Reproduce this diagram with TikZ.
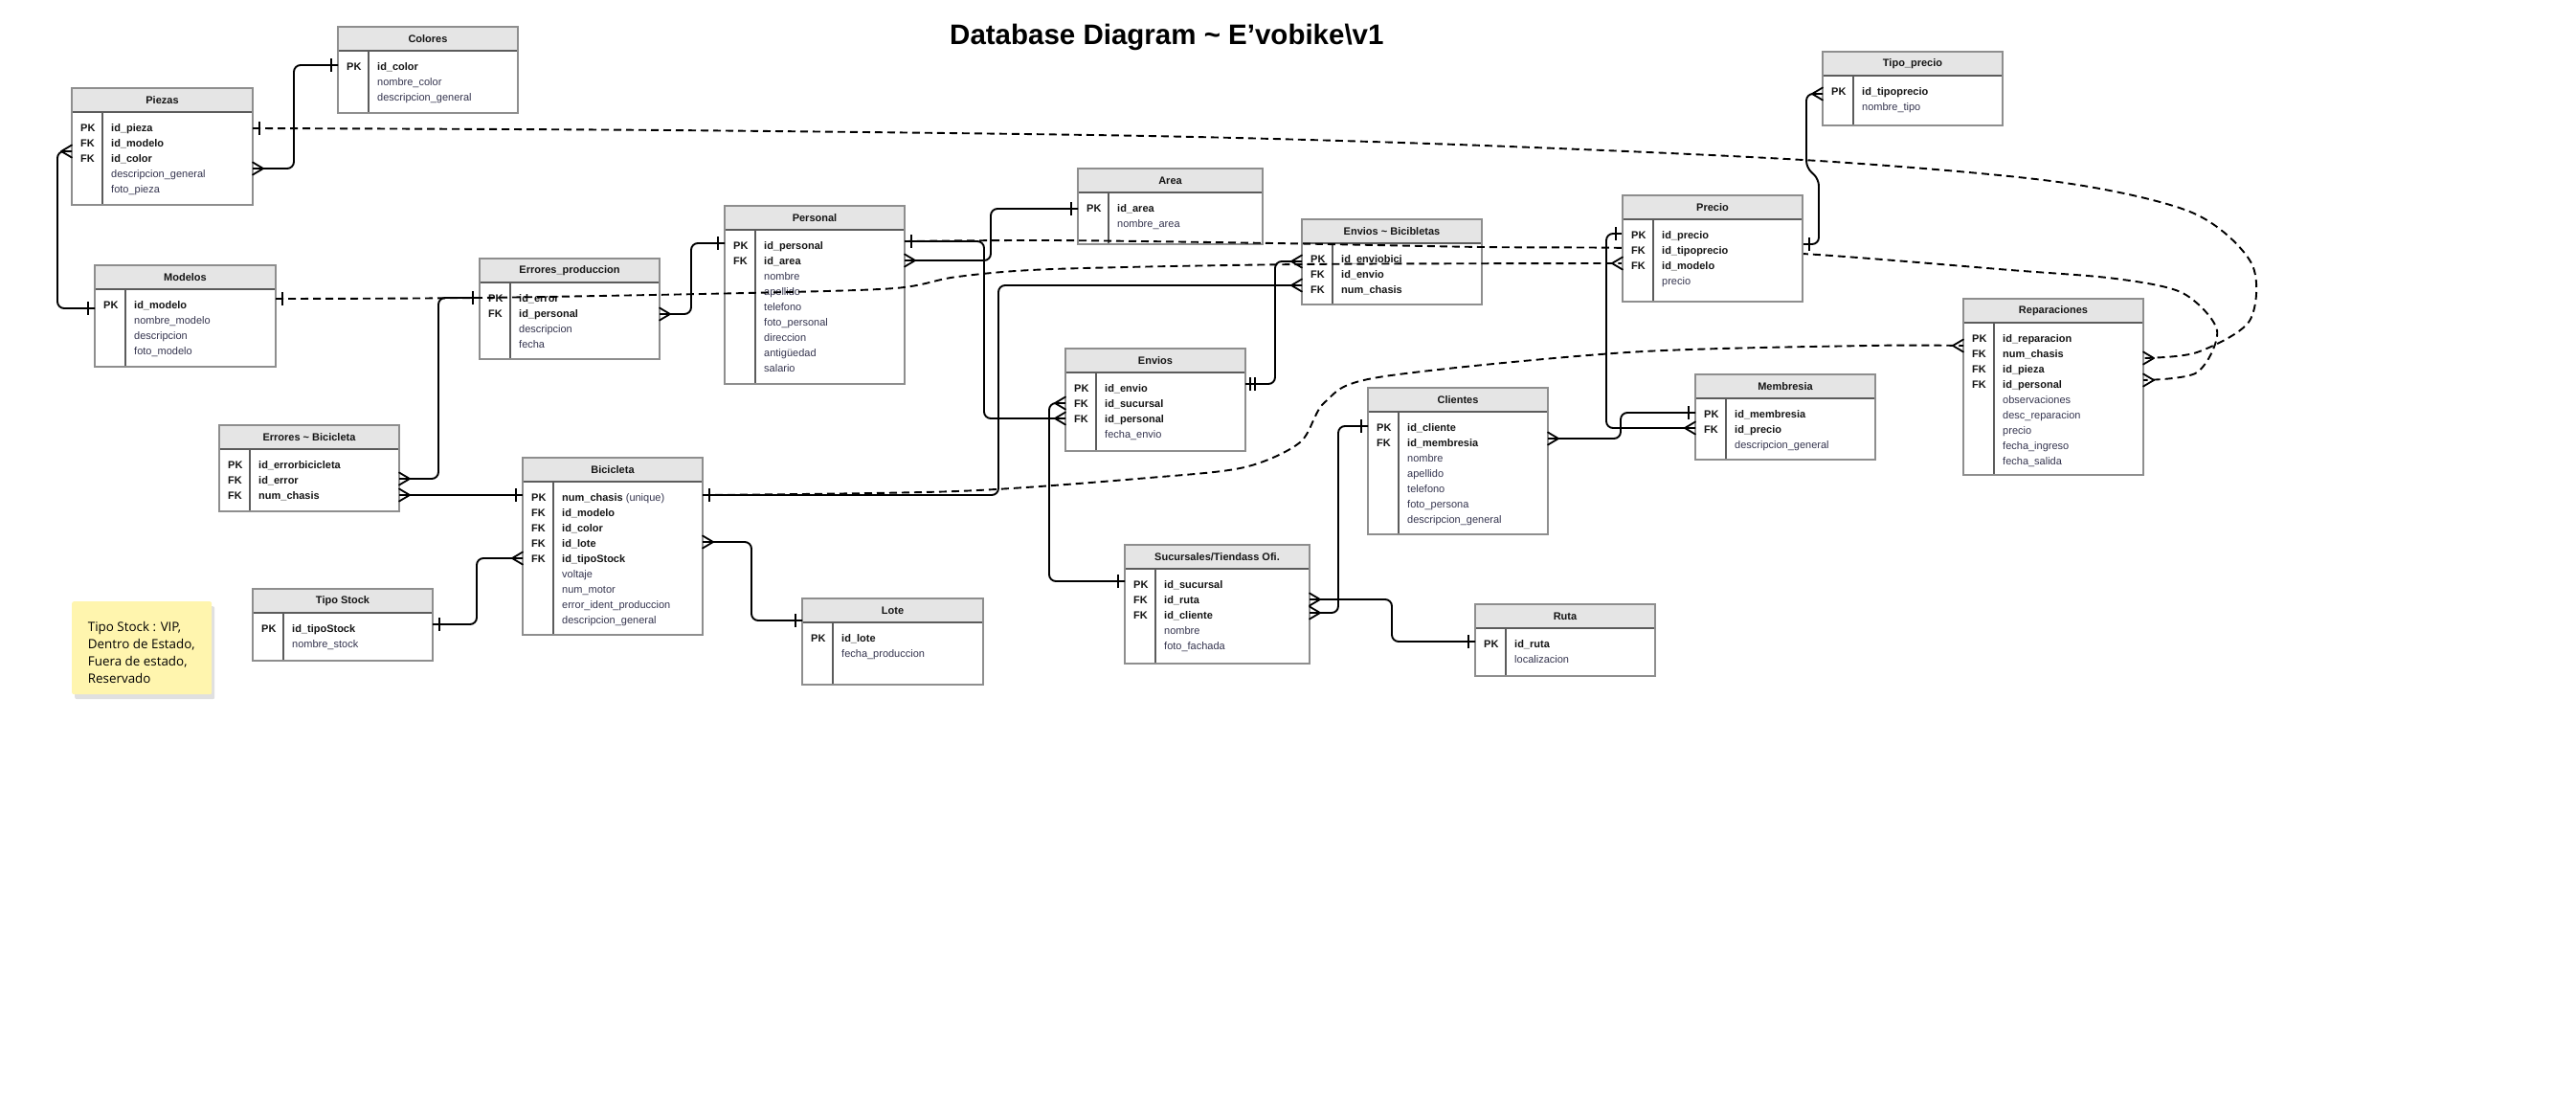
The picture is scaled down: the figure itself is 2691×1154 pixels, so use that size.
\documentclass[tikz,border=0pt]{standalone}
\usepackage{fontspec}
\setmainfont{Liberation Sans}
\newfontfamily\notefont{Open Sans}
\usetikzlibrary{calc,shadows}
\pgfdeclarelayer{frontt}
\pgfdeclarelayer{marks}
\pgfsetlayers{main,frontt,marks}
\definecolor{hdrgray}{HTML}{E5E5E5}
\definecolor{bordergray}{HTML}{8E8E8E}
\definecolor{hdrline}{HTML}{5C5C5C}
\definecolor{fieldcol}{HTML}{35354F}
\definecolor{keycol}{HTML}{151515}
\definecolor{notefill}{HTML}{FFF5AE}

\tikzset{
  tabbox/.style={fill=white, rectangle, inner sep=0pt, outer sep=0pt, anchor=north west},
  tabtitle/.style={font=\fontsize{11}{13}\selectfont\bfseries, text=keycol, inner sep=0pt},
  keylabel/.style={font=\fontsize{11}{13}\selectfont\bfseries, text=keycol, anchor=base west, inner sep=0pt},
  keyfield/.style={font=\fontsize{11}{13}\selectfont\bfseries, text=keycol, anchor=base west, inner sep=0pt},
  plainfield/.style={font=\fontsize{11}{13}\selectfont, text=fieldcol, anchor=base west, inner sep=0pt},
  conn/.style={draw=black, line width=1.9pt, rounded corners=7pt},
  dconn/.style={draw=black, line width=1.9pt, dash pattern=on 8pt off 5pt},
  notetxt/.style={font=\notefont\fontsize{13.4}{18}\selectfont, text=black, anchor=base west, inner sep=0pt},
  onemark/.pic={\draw[black, line width=1.9pt] (-7,-7) -- (-7,7);},
  twomark/.pic={\draw[black, line width=1.9pt] (-5,-7) -- (-5,7) (-10,-7) -- (-10,7);},
  manymark/.pic={\draw[black, line width=1.8pt, line join=round, line cap=round] (0,-6.5) -- (-11,0) -- (0,6.5);},
}

\newcommand{\dbtable}[6]{%
  \node[tabbox, minimum width=#4pt, minimum height=#5pt] (#1) at (#2,#3) {};
  \fill[hdrgray] (#1.north west) rectangle ($(#1.north east)+(0,25)$);
  \draw[hdrline, line width=1.2pt] ($(#1.north west)+(0,25)$) -- ($(#1.north east)+(0,25)$);
  \draw[hdrline, line width=1.1pt] ($(#1.north west)+(32,25)$) -- ($(#1.south west)+(32,0)$);
  \draw[bordergray, line width=1.3pt] (#1.north west) rectangle (#1.south east);
  \node[tabtitle] (#1-t) at ($(#1.north)+(0,12.5)$) {#6};
}
\newcommand{\krow}[4]{%
  \node[keylabel] (#1-k#2) at ($(#1.north west)+(9,29+16*#2)$) {#3};
  \node[keyfield] (#1-f#2) at ($(#1.north west)+(41,29+16*#2)$) {#4};
}
\newcommand{\prow}[3]{%
  \node[plainfield] (#1-f#2) at ($(#1.north west)+(41,29+16*#2)$) {#3};
}

\begin{document}
\begin{tikzpicture}[x=1pt,y=-1pt]
\useasboundingbox (0,0) rectangle (2691,1154);
\fill[white] (0,0) rectangle (2691,1154);

\node[anchor=base west, inner sep=0pt, font=\fontsize{29.5}{32}\selectfont\bfseries] (maintitle) at (992,46.5) {Database Diagram \textasciitilde{} E'vobike\textbackslash v1};

% ---------- tables ----------
\dbtable{colores}{353}{28}{188}{90}{Colores}
\krow{colores}{1}{PK}{id\_color}
\prow{colores}{2}{nombre\_color}
\prow{colores}{3}{descripcion\_general}

\dbtable{piezas}{75}{92}{189}{122}{Piezas}
\krow{piezas}{1}{PK}{id\_pieza}
\krow{piezas}{2}{FK}{id\_modelo}
\krow{piezas}{3}{FK}{id\_color}
\prow{piezas}{4}{descripcion\_general}
\prow{piezas}{5}{foto\_pieza}

\dbtable{modelos}{99}{277}{189}{106}{Modelos}
\krow{modelos}{1}{PK}{id\_modelo}
\prow{modelos}{2}{nombre\_modelo}
\prow{modelos}{3}{descripcion}
\prow{modelos}{4}{foto\_modelo}

\dbtable{errprod}{501}{270}{188}{105}{Errores\_produccion}
\krow{errprod}{1}{PK}{id\_error}
\krow{errprod}{2}{FK}{id\_personal}
\prow{errprod}{3}{descripcion}
\prow{errprod}{4}{fecha}

\dbtable{personal}{757}{215}{188}{186}{Personal}
\krow{personal}{1}{PK}{id\_personal}
\krow{personal}{2}{FK}{id\_area}
\prow{personal}{3}{nombre}
\prow{personal}{4}{apellido}
\prow{personal}{5}{telefono}
\prow{personal}{6}{foto\_personal}
\prow{personal}{7}{direccion}
\prow{personal}{8}{antigüedad}
\prow{personal}{9}{salario}

\dbtable{area}{1126}{176}{193}{79}{Area}
\krow{area}{1}{PK}{id\_area}
\prow{area}{2}{nombre\_area}

\dbtable{envbici}{1360}{229}{188}{89}{Envios \textasciitilde{} Bicibletas}
\krow{envbici}{1}{PK}{id\_enviobici}
\krow{envbici}{2}{FK}{id\_envio}
\krow{envbici}{3}{FK}{num\_chasis}

\dbtable{envios}{1113}{364}{188}{107}{Envios}
\krow{envios}{1}{PK}{id\_envio}
\krow{envios}{2}{FK}{id\_sucursal}
\krow{envios}{3}{FK}{id\_personal}
\prow{envios}{4}{fecha\_envio}

\dbtable{clientes}{1429}{405}{188}{153}{Clientes}
\krow{clientes}{1}{PK}{id\_cliente}
\krow{clientes}{2}{FK}{id\_membresia}
\prow{clientes}{3}{nombre}
\prow{clientes}{4}{apellido}
\prow{clientes}{5}{telefono}
\prow{clientes}{6}{foto\_persona}
\prow{clientes}{7}{descripcion\_general}

\dbtable{tipoprecio}{1904}{54}{188}{77}{Tipo\_precio}
\krow{tipoprecio}{1}{PK}{id\_tipoprecio}
\prow{tipoprecio}{2}{nombre\_tipo}

\dbtable{membresia}{1771}{391}{188}{89}{Membresia}
\krow{membresia}{1}{PK}{id\_membresia}
\krow{membresia}{2}{FK}{id\_precio}
\prow{membresia}{3}{descripcion\_general}

\dbtable{repar}{2051}{312}{188}{184}{Reparaciones}
\krow{repar}{1}{PK}{id\_reparacion}
\krow{repar}{2}{FK}{num\_chasis}
\krow{repar}{3}{FK}{id\_pieza}
\krow{repar}{4}{FK}{id\_personal}
\prow{repar}{5}{observaciones}
\prow{repar}{6}{desc\_reparacion}
\prow{repar}{7}{precio}
\prow{repar}{8}{fecha\_ingreso}
\prow{repar}{9}{fecha\_salida}

\dbtable{errbici}{229}{444}{188}{90}{Errores \textasciitilde{} Bicicleta}
\krow{errbici}{1}{PK}{id\_errorbicicleta}
\krow{errbici}{2}{FK}{id\_error}
\krow{errbici}{3}{FK}{num\_chasis}

\dbtable{bici}{546}{478}{188}{185}{Bicicleta}
\krow{bici}{1}{PK}{num\_chasis {\mdseries\color{fieldcol}(unique)}}
\krow{bici}{2}{FK}{id\_modelo}
\krow{bici}{3}{FK}{id\_color}
\krow{bici}{4}{FK}{id\_lote}
\krow{bici}{5}{FK}{id\_tipoStock}
\prow{bici}{6}{voltaje}
\prow{bici}{7}{num\_motor}
\prow{bici}{8}{error\_ident\_produccion}
\prow{bici}{9}{descripcion\_general}

\dbtable{tipostock}{264}{615}{188}{75}{Tipo Stock}
\krow{tipostock}{1}{PK}{id\_tipoStock}
\prow{tipostock}{2}{nombre\_stock}

\dbtable{lote}{838}{625}{189}{90}{Lote}
\krow{lote}{1}{PK}{id\_lote}
\prow{lote}{2}{fecha\_produccion}

\dbtable{sucursales}{1175}{569}{193}{124}{Sucursales/Tiendass Ofi.}
\krow{sucursales}{1}{PK}{id\_sucursal}
\krow{sucursales}{2}{FK}{id\_ruta}
\krow{sucursales}{3}{FK}{id\_cliente}
\prow{sucursales}{4}{nombre}
\prow{sucursales}{5}{foto\_fachada}

\dbtable{ruta}{1541}{631}{188}{75}{Ruta}
\krow{ruta}{1}{PK}{id\_ruta}
\prow{ruta}{2}{localizacion}

\begin{pgfonlayer}{frontt}
\dbtable{precio}{1695}{204}{188}{111}{Precio}
\krow{precio}{1}{PK}{id\_precio}
\krow{precio}{2}{FK}{id\_tipoprecio}
\krow{precio}{3}{FK}{id\_modelo}
\prow{precio}{4}{precio}
\end{pgfonlayer}

% ---------- sticky note ----------
\node[fill=notefill, rounded corners=2pt, minimum width=146pt, minimum height=97pt, anchor=north west, inner sep=0pt,
      drop shadow={shadow xshift=3pt, shadow yshift=-5pt, opacity=0.12, fill=black}] (note) at (75,628) {};
\node[notetxt] (note1) at (91.7,659) {Tipo Stock : VIP,};
\node[notetxt] (note2) at (91.7,677) {Dentro de Estado,};
\node[notetxt] (note3) at (91.7,695) {Fuera de estado,};
\node[notetxt] (note4) at (91.7,713) {Reservado};

% ---------- endpoints ----------
\coordinate (colores-w1) at ($(colores.north west)+(0,40)$);
\coordinate (piezas-e1) at ($(piezas.north east)+(0,42)$);
\coordinate (piezas-e2) at ($(piezas.north east)+(0,84)$);
\coordinate (piezas-w1) at ($(piezas.north west)+(0,66)$);
\coordinate (modelos-w1) at ($(modelos.north west)+(0,45)$);
\coordinate (modelos-e1) at ($(modelos.north east)+(0,35)$);
\coordinate (errprod-w1) at ($(errprod.north west)+(0,41)$);
\coordinate (errprod-e2) at ($(errprod.north east)+(0,58)$);
\coordinate (personal-w1) at ($(personal.north west)+(0,39)$);
\coordinate (personal-e1) at ($(personal.north east)+(0,37)$);
\coordinate (personal-e2) at ($(personal.north east)+(0,57)$);
\coordinate (area-w1) at ($(area.north west)+(0,42)$);
\coordinate (envbici-w1) at ($(envbici.north west)+(0,44)$);
\coordinate (envbici-w2) at ($(envbici.north west)+(0,69)$);
\coordinate (envios-w1) at ($(envios.north west)+(0,57)$);
\coordinate (envios-w2) at ($(envios.north west)+(0,73)$);
\coordinate (envios-e1) at ($(envios.north east)+(0,37)$);
\coordinate (clientes-w1) at ($(clientes.north west)+(0,40)$);
\coordinate (clientes-e1) at ($(clientes.north east)+(0,53)$);
\coordinate (precio-w1) at ($(precio.north west)+(0,40)$);
\coordinate (precio-w2) at ($(precio.north west)+(0,71)$);
\coordinate (precio-e1) at ($(precio.north east)+(0,51)$);
\coordinate (tipoprecio-w1) at ($(tipoprecio.north west)+(0,44)$);
\coordinate (membresia-w1) at ($(membresia.north west)+(0,40)$);
\coordinate (membresia-w2) at ($(membresia.north west)+(0,56)$);
\coordinate (repar-w1) at ($(repar.north west)+(0,49)$);
\coordinate (repar-e1) at ($(repar.north east)+(0,62)$);
\coordinate (repar-e2) at ($(repar.north east)+(0,85)$);
\coordinate (errbici-e1) at ($(errbici.north east)+(0,56)$);
\coordinate (errbici-e2) at ($(errbici.north east)+(0,73)$);
\coordinate (bici-w1) at ($(bici.north west)+(0,39)$);
\coordinate (bici-w2) at ($(bici.north west)+(0,105)$);
\coordinate (bici-e1) at ($(bici.north east)+(0,39)$);
\coordinate (bici-e2) at ($(bici.north east)+(0,88)$);
\coordinate (tipostock-e1) at ($(tipostock.north east)+(0,37)$);
\coordinate (lote-w1) at ($(lote.north west)+(0,23)$);
\coordinate (sucursales-w1) at ($(sucursales.north west)+(0,38)$);
\coordinate (sucursales-e1) at ($(sucursales.north east)+(0,57)$);
\coordinate (sucursales-e2) at ($(sucursales.north east)+(0,71)$);
\coordinate (ruta-w1) at ($(ruta.north west)+(0,39)$);

% ---------- solid connectors ----------
\draw[conn] (piezas-e2) -| ([xshift=-46pt]colores-w1) -- (colores-w1);
\draw[conn] (piezas-w1) -- ++(-15,0) |- (modelos-w1);
\draw[conn] (errprod-e2) -| ([xshift=-35pt]personal-w1) -- (personal-w1);
\draw[conn] (errbici-e1) -| ([xshift=-43pt]errprod-w1) -- (errprod-w1);
\draw[conn] (errbici-e2) -- (bici-w1);
\draw[conn] (tipostock-e1) -| ([xshift=-48pt]bici-w2) -- (bici-w2);
\draw[conn] (bici-e2) -| ([xshift=-53pt]lote-w1) -- (lote-w1);
\draw[conn] (bici-e1) -| ([xshift=-317pt]envbici-w2) -- (envbici-w2);
\draw[conn] (personal-e1) -| ([xshift=-85pt]envios-w2) -- (envios-w2);
\draw[conn] (personal-e2) -| ([xshift=-91pt]area-w1) -- (area-w1);
\draw[conn] (sucursales-w1) -| ([xshift=-17pt]envios-w1) -- (envios-w1);
\draw[conn] (envios-e1) -| ([xshift=-28pt]envbici-w1) -- (envbici-w1);
\draw[conn] (sucursales-e1) -| ([xshift=-87pt]ruta-w1) -- (ruta-w1);
\draw[conn] (sucursales-e2) -| ([xshift=-31pt]clientes-w1) -- (clientes-w1);
\draw[conn] (clientes-e1) -| ([xshift=-78pt]membresia-w1) -- (membresia-w1);
\draw[conn] (precio-w1) -- ++(-17,0) |- (membresia-w2);
\draw[conn] (precio-e1) -- ++(17,0) -- ++(0,-68) -- ++(-13,-12) |- (tipoprecio-w1);

% ---------- dashed connectors ----------
\draw[dconn] plot[smooth, tension=0.5] coordinates {(piezas-e1) (700,136) (1200,142) (1550,152) (1900,168) (2150,190) (2290,222) (2352,275) (2350,335) (2295,368) (repar-e1)};
\draw[dconn] plot[smooth, tension=0.5] coordinates {(personal-e1) (1100,251) (1330,254) (1548,258) (1700,259) (1883,265) (2100,282) (2210,291) (2280,306) (2316,345) (2295,389) (repar-e2)};
\draw[dconn] plot[smooth, tension=0.5] coordinates {(modelos-e1) (500,311) (780,306) (935,301) (1000,289) (1100,281) (1360,276) (precio-w2)};
\draw[dconn] plot[smooth, tension=0.5] coordinates {(bici-e1) (1000,513) (1200,499) (1300,488) (1358,462) (1384,420) (1440,394) (1700,368) (1950,361) (repar-w1)};

% ---------- end markers ----------
\begin{pgfonlayer}{marks}
\foreach \c in {colores-w1, modelos-w1, personal-w1, errprod-w1, bici-w1, area-w1, clientes-w1, ruta-w1, sucursales-w1, membresia-w1, lote-w1, precio-w1} {\pic at (\c) {onemark};}
\foreach \c in {tipostock-e1, bici-e1, personal-e1, precio-e1, piezas-e1, modelos-e1} {\pic[rotate=180] at (\c) {onemark};}
\foreach \c in {piezas-w1, envios-w1, envios-w2, envbici-w1, envbici-w2, bici-w2, membresia-w2, tipoprecio-w1, precio-w2, repar-w1} {\pic at (\c) {manymark};}
\foreach \c in {piezas-e2, errprod-e2, personal-e2, errbici-e1, errbici-e2, bici-e2, sucursales-e1, sucursales-e2, clientes-e1, repar-e1, repar-e2} {\pic[rotate=180] at (\c) {manymark};}
\pic[rotate=180] at (envios-e1) {twomark};
\end{pgfonlayer}
\end{tikzpicture}
\end{document}
